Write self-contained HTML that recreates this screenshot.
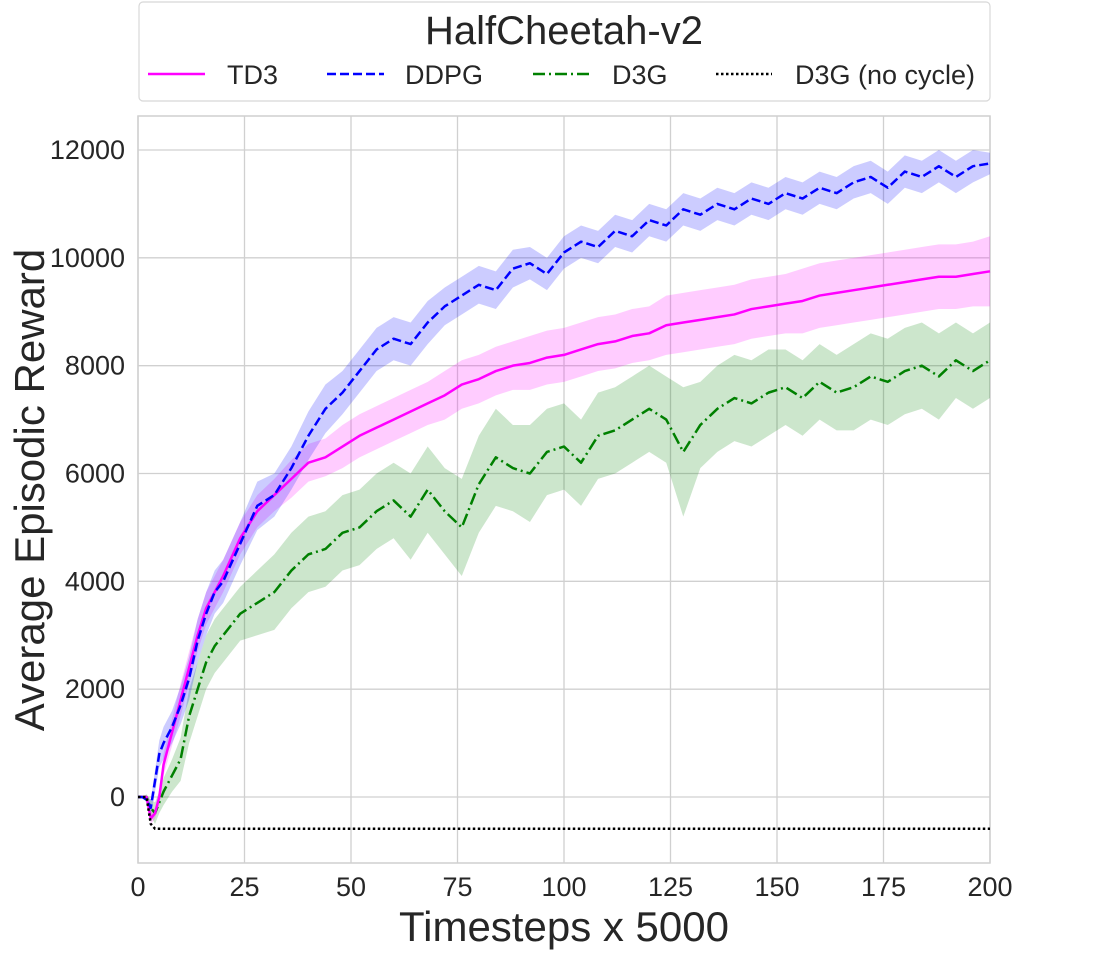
<!DOCTYPE html>
<html><head><meta charset="utf-8"><style>
body{margin:0;background:#fff;}
svg{display:block;font-family:"Liberation Sans",Arial,sans-serif;}
</style></head><body>
<svg id="chart" width="1100" height="971" viewBox="0 0 1100 971">
<rect x="138" y="116" width="852" height="747" fill="#fff" stroke="#cfcfcf" stroke-width="1.5"/>
<g id="grid"></g>
<g id="bands"></g>
<g id="lines"></g>
<g id="ticks"></g>
<text x="564" y="941" font-size="42" text-anchor="middle" fill="#262626">Timesteps x 5000</text>
<text transform="translate(44,490) rotate(-90)" font-size="42" text-anchor="middle" fill="#262626">Average Episodic Reward</text>
<g>
<rect x="139" y="2" width="851" height="99" rx="4" fill="#fff" stroke="#d8d8d8" stroke-width="1.2"/>
<text x="564" y="44" font-size="40" text-anchor="middle" fill="#262626">HalfCheetah-v2</text>
<g><line x1="148" y1="74" x2="205" y2="74" stroke="#ff00ff" stroke-width="2.5"/><text x="227" y="84" font-size="27" fill="#262626">TD3</text></g>
<g><line x1="327" y1="74" x2="384" y2="74" stroke="#0000ff" stroke-width="2.5" stroke-dasharray="9,4"/><text x="405" y="84" font-size="27" fill="#262626">DDPG</text></g>
<g><line x1="533" y1="74" x2="589" y2="74" stroke="#008000" stroke-width="2.5" stroke-dasharray="12,4,2,4"/><text x="612" y="84" font-size="27" fill="#262626">D3G</text></g>
<g><line x1="716" y1="74" x2="772" y2="74" stroke="#000" stroke-width="2.5" stroke-dasharray="2.5,2.5"/><text x="795" y="84" font-size="27" fill="#262626">D3G (no cycle)</text></g>
</g>
</svg>
<script>
const xs=[0,1,2,3,4,5,6,8,10,12,14,16,18,20,24,28,32,36,40,44,48,52,56,60,64,68,72,76,80,84,88,92,96,100,104,108,112,116,120,124,128,132,136,140,144,148,152,156,160,164,168,172,176,180,184,188,192,196,200];
const td3=[0,0,0,-400,-300,0,600,1200,1800,2400,3000,3500,3800,4100,4800,5300,5600,5900,6200,6300,6500,6700,6850,7000,7150,7300,7450,7650,7750,7900,8000,8050,8150,8200,8300,8400,8450,8550,8600,8750,8800,8850,8900,8950,9050,9100,9150,9200,9300,9350,9400,9450,9500,9550,9600,9650,9650,9700,9750];
const td3Band=[0,0,0,100,100,150,200,250,300,300,300,300,300,300,300,300,300,350,350,350,400,400,400,400,400,400,450,450,450,450,450,500,500,500,500,500,500,500,500,550,550,550,550,550,550,550,550,600,600,600,600,600,600,600,600,600,600,600,650];
const ddpg=[0,0,-50,-200,300,800,1000,1300,1700,2200,2900,3400,3800,4000,4700,5400,5600,6100,6700,7200,7500,7900,8300,8500,8400,8800,9100,9300,9500,9400,9800,9900,9700,10100,10300,10200,10500,10400,10700,10600,10900,10800,11000,10900,11100,11000,11200,11100,11300,11200,11400,11500,11300,11600,11500,11700,11500,11700,11750];
const ddpgBand=[0,0,50,150,200,250,300,300,350,400,400,400,400,400,400,450,400,400,450,450,400,400,400,400,400,400,350,350,350,350,350,300,300,300,300,300,300,300,300,300,300,300,300,300,300,300,300,300,300,300,300,300,300,300,300,300,300,300,200];
const d3g=[0,0,0,-200,-300,-100,100,400,700,1500,2000,2500,2800,3000,3400,3600,3800,4200,4500,4600,4900,5000,5300,5500,5200,5700,5300,5000,5800,6300,6100,6000,6400,6500,6200,6700,6800,7000,7200,7000,6400,6900,7200,7400,7300,7500,7600,7400,7700,7500,7600,7800,7700,7900,8000,7800,8100,7900,8100];
const d3gBand=[0,0,50,150,200,200,250,300,400,500,500,500,500,500,500,600,700,700,700,700,700,700,700,700,800,800,800,900,900,900,800,900,800,800,800,800,800,800,800,800,1200,800,800,800,800,800,700,700,700,700,800,800,800,800,800,800,700,700,700];
const noCycleX=[0,1,2,3,4,200];
const noCycle=[0,0,0,-500,-590,-590];
const xTicks=[0,25,50,75,100,125,150,175,200];
const yTicks=[0,2000,4000,6000,8000,10000,12000];

const X=v=>138+v*(852/200);
const Y=v=>797-v*(647/12000);
const NS="http://www.w3.org/2000/svg";
function mk(tag,parent,attrs){const e=document.createElementNS(NS,tag);for(const k in attrs)e.setAttribute(k,attrs[k]);parent.appendChild(e);return e;}
const grid=document.getElementById('grid'),ticks=document.getElementById('ticks');
xTicks.forEach(t=>{
  const l=mk('line',grid,{x1:X(t),x2:X(t),y1:116,y2:863,stroke:'#d0d0d0','stroke-width':1.3});
  
  
  const tx=mk('text',ticks,{x:X(t),y:896,'font-size':27,'text-anchor':'middle',fill:'#262626'});
  tx.textContent=t;
  
  
});
yTicks.forEach(t=>{
  const l=mk('line',grid,{x1:138,x2:990,y1:Y(t),y2:Y(t),stroke:'#d0d0d0','stroke-width':1.3});
  
  
  const tx=mk('text',ticks,{x:125,y:Y(t)+9,'font-size':27,'text-anchor':'end',fill:'#262626'});
  tx.textContent=t;
  
  
});
const bands=document.getElementById('bands'),lines=document.getElementById('lines');
function series(name,xv,yv,bv,color,dash,w){
  const n=Math.min(xv.length,yv.length,bv?bv.length:1e9);
  if(bv){
    let up=[],lo=[];
    for(let i=0;i<n;i++){up.push(X(xv[i])+','+Y(yv[i]+bv[i]));lo.unshift(X(xv[i])+','+Y(yv[i]-bv[i]));}
    const p=mk('polygon',bands,{points:up.concat(lo).join(' '),fill:color,'fill-opacity':0.2,stroke:'none'});
    
    
  }
  let pts=[];for(let i=0;i<n;i++)pts.push(X(xv[i])+','+Y(yv[i]));
  const l=mk('polyline',lines,{points:pts.join(' '),fill:'none',stroke:color,'stroke-width':w,'stroke-dasharray':dash,'stroke-linejoin':'round'});
  
  
}
series('d3g',xs,d3g,d3gBand,'#008000','12,4,2,4',2.5);
series('td3',xs,td3,td3Band,'#ff00ff','none',2.5);
series('ddpg',xs,ddpg,ddpgBand,'#0000ff','9,4',2.5);
series('d3g-no-cycle',noCycleX,noCycle,null,'#000000','2.5,2.5',2.5);
</script>
</body></html>
